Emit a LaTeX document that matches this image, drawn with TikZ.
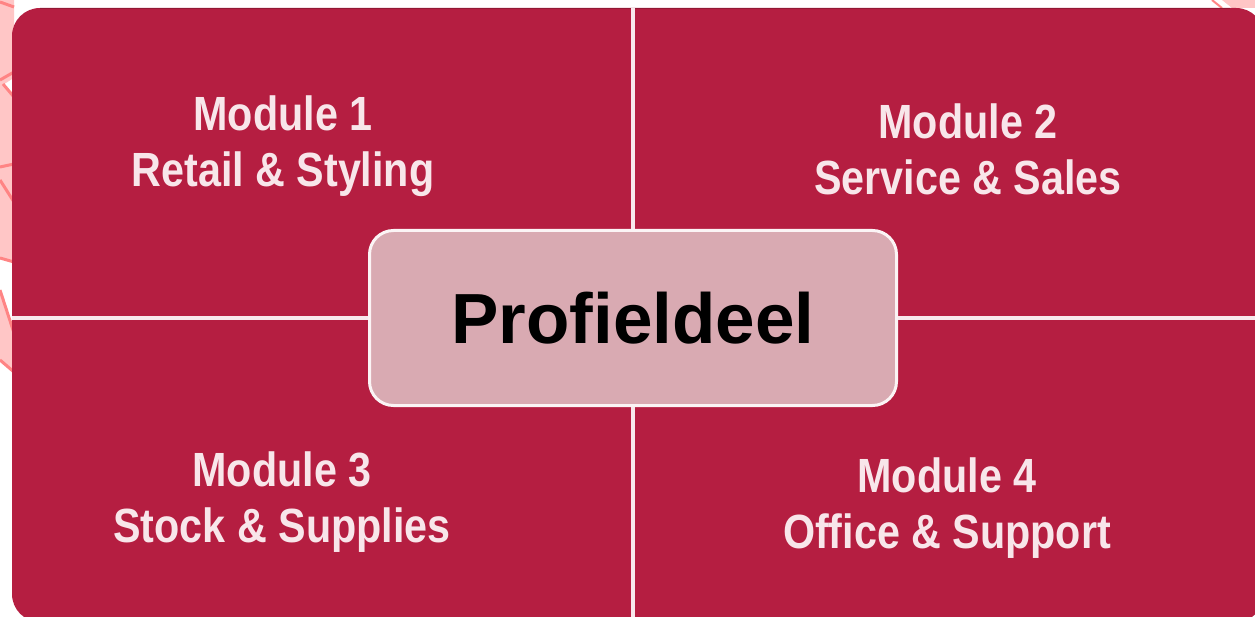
\documentclass[tikz,border=0pt]{standalone}
\usepackage{fontspec}
\setmainfont{Liberation Sans}
\newfontfamily\modfont[FakeStretch=0.86]{Liberation Sans}
\definecolor{crimson}{HTML}{B51E41}
\definecolor{centerfill}{HTML}{D9AAB2}
\definecolor{modtext}{HTML}{F8E6EA}
\definecolor{decopink}{HTML}{FFC6C6}
\definecolor{decoline}{HTML}{FF8484}
\begin{document}
\begin{tikzpicture}[x=1pt,y=-1pt,
  modlabel/.style={text=modtext,font=\modfont\bfseries\fontsize{48}{56}\selectfont,align=center,inner sep=0pt,anchor=base},
  divider/.style={draw=white!90!crimson,line width=3.5pt},
  hub/.style={draw=white!95!crimson,line width=3pt,fill=centerfill,rounded corners=24pt,minimum width=527pt,minimum height=175pt,font=\bfseries\fontsize{71}{80}\selectfont,text=black}]
\useasboundingbox (0,0) rectangle (1255,617);
\fill[white] (0,0) rectangle (1255,617);
% decorative pink shapes at the left edge
\fill[decopink] (0,0) -- (14,0) -- (14,262) -- (0,258) -- cycle;
\fill[decopink] (0,290) -- (14,333) -- (14,372) -- (0,360) -- cycle;
\fill[white] (3,85) -- (14,78) -- (14,94) -- cycle;
\draw[decoline,line width=3pt] (0,2) -- (14,7);
\draw[decoline,line width=3pt] (0,80) -- (14,72);
\draw[decoline,line width=3pt] (3,84) -- (14,97);
\draw[decoline,line width=3pt] (0,167) -- (14,164);
\draw[decoline,line width=3pt] (0,180) -- (14,202);
\draw[decoline,line width=3pt] (0,258) -- (14,262);
\draw[decoline,line width=3pt] (0,290) -- (14,333);
\draw[decoline,line width=3pt] (0,360) -- (14,372);
\draw[decoline,line width=2pt] (1212,0) -- (1222,8);
\fill[decopink] (1222,0) -- (1255,0) -- (1255,8) -- (1232,8) -- cycle;
% main panel
\fill[crimson,rounded corners=28pt] (12,8) rectangle (1264,622);
\draw[crimson!80!black,line width=1pt] (40,8.5) -- (1230,8.5);
% dividers
\coordinate (vt) at (633,8);
\coordinate (vb) at (633,617);
\coordinate (hl) at (12,318);
\coordinate (hr) at (1255,318);
\draw[divider] (vt) -- (vb);
\draw[divider] (hl) -- (hr);
% centre box
\node[hub] (hub) at (633,318) {\raisebox{-2pt}{Profieldeel}};
% module labels (anchor = baseline of the last line)
\node[modlabel] (m1) at (283,187) {Module 1\\Retail \& Styling};
\node[modlabel] (m2) at (968,195) {Module 2\\Service \& Sales};
\node[modlabel] (m3) at (282,542) {Module 3\\Stock \& Supplies};
\node[modlabel] (m4) at (947,548) {Module 4\\Office \& Support};
\end{tikzpicture}
\end{document}
